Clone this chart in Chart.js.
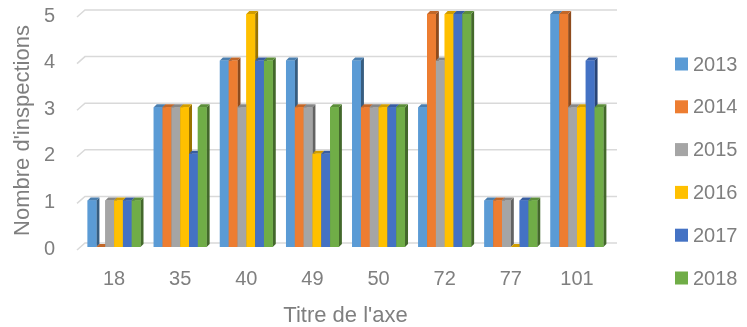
<!DOCTYPE html>
<html>
<head>
<meta charset="utf-8">
<script src="https://cdn.jsdelivr.net/npm/chart.js@4.4.1/dist/chart.umd.min.js"></script>
<style>
  html, body { margin: 0; padding: 0; background: #ffffff; }
  #wrap { width: 747px; height: 327px; position: relative; }
</style>
</head>
<body>
<div id="wrap"><canvas id="c"></canvas></div>
<script>
// Inspections per site number, one array per year
const categories = ['18', '35', '40', '49', '50', '72', '77', '101'];
const years = ['2013', '2014', '2015', '2016', '2017', '2018'];
const v2013 = [1, 3, 4, 4, 4, 3, 1, 5];
const v2014 = [0, 3, 4, 3, 3, 5, 1, 5];
const v2015 = [1, 3, 3, 3, 3, 4, 1, 3];
const v2016 = [1, 3, 5, 2, 3, 5, 0, 3];
const v2017 = [1, 2, 4, 2, 3, 5, 1, 4];
const v2018 = [1, 3, 4, 3, 3, 5, 1, 3];
const yTicks = [0, 1, 2, 3, 4, 5];

const seriesValues = [v2013, v2014, v2015, v2016, v2017, v2018];
const colors = ['#5B9BD5', '#ED7D31', '#A5A5A5', '#FFC000', '#4472C4', '#70AD47'];
const textColor = '#7f7f7f';
const fontFamily = '"Liberation Sans", Arial, sans-serif';

// depth of the extruded bars and the back wall
const DX = 3, DY = 3;

function shade(hex, f) {
  const n = parseInt(hex.slice(1), 16);
  const r = Math.round(((n >> 16) & 255) * f);
  const g = Math.round(((n >> 8) & 255) * f);
  const b = Math.round((n & 255) * f);
  return `rgb(${r},${g},${b})`;
}

// Gridlines drawn on the back wall with a short slanted lead-in on the left
const wallGrid = {
  id: 'wallGrid',
  beforeDatasetsDraw(chart) {
    const { ctx, chartArea, scales } = chart;
    const ys = scales.y;
    ctx.save();
    ctx.strokeStyle = '#d9d9d9';
    ctx.lineWidth = 1.5;
    yTicks.forEach(v => {
      const y = ys.getPixelForValue(v);
      ctx.beginPath();
      ctx.moveTo(chartArea.left - 4, y + 3);
      ctx.lineTo(chartArea.left + 4, y - 4);
      ctx.lineTo(chartArea.right + 7, y - 4);
      ctx.stroke();
    });
    ctx.restore();
  }
};

// Adds side and top faces to every bar, left to right inside each group
const bars3d = {
  id: 'bars3d',
  afterDatasetsDraw(chart) {
    const { ctx } = chart;
    const metas = chart.data.datasets.map((_, i) => chart.getDatasetMeta(i));
    ctx.save();
    for (let j = 0; j < categories.length; j++) {
      metas.forEach((meta, i) => {
        const bar = meta.data[j];
        if (!bar) return;
        const { x, y, base, width } = bar.getProps(['x', 'y', 'base', 'width'], true);
        const l = x - width / 2, r = x + width / 2;
        const col = colors[i];
        // right side
        ctx.fillStyle = shade(col, 0.6);
        ctx.beginPath();
        ctx.moveTo(r, y);
        ctx.lineTo(r + DX, y - DY);
        ctx.lineTo(r + DX, base - DY);
        ctx.lineTo(r, base);
        ctx.closePath();
        ctx.fill();
        // top
        ctx.fillStyle = shade(col, 0.82);
        ctx.beginPath();
        ctx.moveTo(l, y);
        ctx.lineTo(l + DX, y - DY);
        ctx.lineTo(r + DX, y - DY);
        ctx.lineTo(r, y);
        ctx.closePath();
        ctx.fill();
        // front
        ctx.fillStyle = col;
        ctx.fillRect(l, y, width, base - y);
      });
    }
    ctx.restore();
  }
};

// Vertical legend on the right
const sideLegend = {
  id: 'sideLegend',
  afterDraw(chart) {
    const { ctx } = chart;
    ctx.save();
    ctx.font = `20px ${fontFamily}`;
    ctx.textBaseline = 'middle';
    ctx.textAlign = 'left';
    chart.data.datasets.forEach((ds, i) => {
      const cy = 64 + i * 42.8;
      ctx.fillStyle = ds.backgroundColor;
      ctx.fillRect(675, cy - 6.5, 13, 13);
      ctx.fillStyle = textColor;
      ctx.fillText(ds.label, 693, cy + 1);
    });
    ctx.restore();
  }
};

const datasets = years.map((yr, i) => ({
  label: yr,
  data: seriesValues[i],
  backgroundColor: colors[i],
  borderWidth: 0,
  categoryPercentage: 0.8,
  barPercentage: 1.0
}));

new Chart(document.getElementById('c'), {
  type: 'bar',
  data: { labels: categories, datasets },
  plugins: [wallGrid, bars3d, sideLegend],
  options: {
    responsive: true,
    maintainAspectRatio: false,
    animation: false,
    layout: { padding: { left: 0, right: 137, top: 14, bottom: 0 } },
    plugins: {
      legend: { display: false },
      tooltip: { enabled: false }
    },
    scales: {
      x: {
        grid: { display: false, drawTicks: false },
        border: { display: false },
        ticks: { color: textColor, font: { family: fontFamily, size: 20 }, padding: 20 },
        title: {
          display: true,
          text: "Titre de l'axe",
          color: textColor,
          font: { family: fontFamily, size: 22, lineHeight: 1 },
          padding: { top: 0, bottom: 0 }
        },
        afterFit(s) { s.height = 80; s.paddingLeft = 0; s.paddingRight = 0; }
      },
      y: {
        min: 0,
        max: 5,
        grid: { display: false, drawTicks: false },
        border: { display: false },
        ticks: {
          stepSize: 1,
          color: textColor,
          font: { family: fontFamily, size: 20 },
          padding: 26,
          labelOffset: 2,
          callback: (v) => yTicks.includes(v) ? String(v) : ''
        },
        title: {
          display: true,
          text: "Nombre d'inspections",
          color: textColor,
          font: { family: fontFamily, size: 22, lineHeight: 1 },
          padding: { top: 12, bottom: 0 }
        },
        afterFit(s) { s.width = 81; s.paddingTop = 0; s.paddingBottom = 0; }
      }
    }
  }
});
</script>
</body>
</html>
